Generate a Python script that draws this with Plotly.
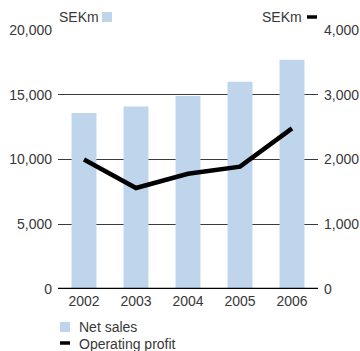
import plotly.graph_objects as go

years = ["2002", "2003", "2004", "2005", "2006"]
net_sales = [13600, 14100, 14900, 16000, 17700]          # SEKm, left axis
operating_profit = [2000, 1560, 1780, 1890, 2480]        # SEKm, right axis
left_ticks = [0, 5000, 10000, 15000, 20000]
right_ticks = [0, 1000, 2000, 3000, 4000]

BAR_COLOR = "#bed5ec"
TEXT_COLOR = "#383838"
FONT = "Liberation Sans, Arial, Helvetica, sans-serif"

# Plot area in pixels (used for placing keys in paper coordinates)
W, H = 360, 351
L, R, T, B = 58, 42, 30, 62
PW, PH = W - L - R, H - T - B


def px(x):
    return (x - L) / PW


def py(y):
    return (H - B - y) / PH


fig = go.Figure()
fig.add_trace(go.Bar(x=years, y=net_sales, marker_color=BAR_COLOR,
                     marker_line_width=0, name="Net sales", yaxis="y"))
fig.add_trace(go.Scatter(x=years, y=operating_profit, mode="lines",
                         line=dict(color="black", width=4.5),
                         name="Operating profit", yaxis="y2"))

fig.update_layout(
    width=W, height=H,
    margin=dict(l=L, r=R, t=T, b=B, autoexpand=False),
    paper_bgcolor="white", plot_bgcolor="white",
    font=dict(family=FONT, size=14, color=TEXT_COLOR),
    showlegend=False,
    bargap=0.52,
    xaxis=dict(showgrid=False, ticks="", showline=False, zeroline=False,
               ticklabelstandoff=2, automargin=False),
    yaxis=dict(range=[0, 20000], tickvals=left_ticks,
               ticktext=[f"{v:,}" for v in left_ticks],
               showgrid=True, gridcolor="#3a3a3a", gridwidth=1,
               zeroline=False, ticks="", ticklabelstandoff=5, automargin=False),
    yaxis2=dict(range=[0, 4000], tickvals=right_ticks,
                ticktext=[f"{v:,}" for v in right_ticks],
                overlaying="y", side="right", showgrid=False,
                zeroline=False, ticks="", ticklabelstandoff=5, automargin=False),
)

# Baseline along zero
fig.add_shape(type="line", xref="paper", yref="y", x0=0, x1=1, y0=0, y1=0,
              line=dict(color="black", width=2.5), layer="above")

# Unit headers with series keys
fig.add_annotation(text="SEKm", xref="paper", yref="paper", x=px(57), y=py(17),
                   xanchor="left", yanchor="middle", showarrow=False)
fig.add_shape(type="rect", xref="paper", yref="paper",
              x0=px(102), x1=px(112), y0=py(22), y1=py(12),
              line_width=0, fillcolor=BAR_COLOR)
fig.add_annotation(text="SEKm", xref="paper", yref="paper", x=px(304), y=py(17),
                   xanchor="right", yanchor="middle", showarrow=False)
fig.add_shape(type="line", xref="paper", yref="paper",
              x0=px(307), x1=px(317), y0=py(17), y1=py(17),
              line=dict(color="black", width=3.5))

# Legend below the axis
fig.add_shape(type="rect", xref="paper", yref="paper",
              x0=px(60), x1=px(70), y0=py(332), y1=py(322),
              line_width=0, fillcolor=BAR_COLOR)
fig.add_annotation(text="Net sales", xref="paper", yref="paper",
                   x=px(77), y=py(327), xanchor="left", yanchor="middle",
                   showarrow=False)
fig.add_shape(type="line", xref="paper", yref="paper",
              x0=px(60), x1=px(70), y0=py(343), y1=py(343),
              line=dict(color="black", width=3.5))
fig.add_annotation(text="Operating profit", xref="paper", yref="paper",
                   x=px(77), y=py(344), xanchor="left", yanchor="middle",
                   showarrow=False)

fig.write_html("out.html")
